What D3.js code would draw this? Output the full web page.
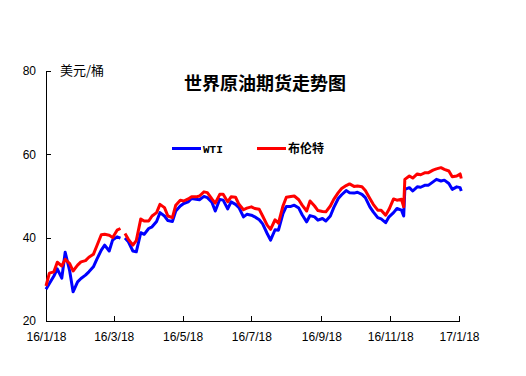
<!DOCTYPE html>
<html>
<head>
<meta charset="utf-8">
<title>世界原油期货走势图</title>
<style>
body { margin: 0; background: #fff; }
text { fill: #000; }
.axis text { font: 12px "Liberation Sans", Arial, sans-serif; }
.axis path, .axis line { stroke: #000; shape-rendering: crispEdges; }
</style>
</head>
<body>
<script src="https://cdn.jsdelivr.net/npm/d3@7"></script>
<script>

// trading days sampled (twice a week) from the picture
var dates = [
  "2016-01-18","2016-01-21","2016-01-25","2016-01-28","2016-02-01","2016-02-04","2016-02-08","2016-02-11",
  "2016-02-15","2016-02-18","2016-02-22","2016-02-25","2016-02-29","2016-03-03","2016-03-07","2016-03-10",
  "2016-03-14","2016-03-17","2016-03-21","2016-03-24","2016-03-25","2016-03-28","2016-03-31","2016-04-04",
  "2016-04-07","2016-04-11","2016-04-14","2016-04-18","2016-04-21","2016-04-25","2016-04-28","2016-05-02",
  "2016-05-05","2016-05-09","2016-05-12","2016-05-16","2016-05-19","2016-05-23","2016-05-26","2016-05-30",
  "2016-06-02","2016-06-06","2016-06-09","2016-06-13","2016-06-16","2016-06-20","2016-06-23","2016-06-27",
  "2016-06-30","2016-07-04","2016-07-07","2016-07-11","2016-07-14","2016-07-18","2016-07-21","2016-07-25",
  "2016-07-28","2016-08-01","2016-08-04","2016-08-08","2016-08-11","2016-08-15","2016-08-18","2016-08-22",
  "2016-08-25","2016-08-29","2016-09-01","2016-09-05","2016-09-08","2016-09-12","2016-09-15","2016-09-19",
  "2016-09-22","2016-09-26","2016-09-29","2016-10-03","2016-10-06","2016-10-10","2016-10-13","2016-10-17",
  "2016-10-20","2016-10-24","2016-10-27","2016-10-31","2016-11-03","2016-11-07","2016-11-10","2016-11-14",
  "2016-11-17","2016-11-21","2016-11-24","2016-11-28","2016-11-30","2016-12-01","2016-12-05","2016-12-08",
  "2016-12-12","2016-12-15","2016-12-19","2016-12-22","2016-12-26","2016-12-29","2017-01-02","2017-01-05",
  "2017-01-09","2017-01-12","2017-01-16","2017-01-19","2017-01-20"
];

var wti = [
  27.6,29.0,30.8,32.5,30.3,36.5,32.0,27.0,
  29.4,30.2,31.0,31.8,33.0,34.8,37.0,38.2,
  36.8,39.4,40.2,39.9,null,39.9,39.0,36.8,
  36.6,41.2,40.8,42.2,42.6,43.9,46.0,45.2,
  44.1,43.9,46.4,47.6,48.2,48.6,49.4,49.2,
  49.1,49.9,49.6,48.5,46.4,49.2,49.0,46.9,
  48.6,48.0,47.2,45.0,45.6,45.4,45.0,44.3,
  43.3,41.0,39.4,41.9,41.8,45.8,47.5,47.5,
  47.8,47.1,45.5,43.8,45.3,45.0,44.2,44.6,
  44.0,45.2,47.2,49.4,50.3,51.3,50.8,50.7,
  50.9,50.4,49.6,47.4,46.2,44.8,44.5,43.6,
  45.0,46.0,47.0,46.6,45.2,51.6,52.0,51.2,
  52.2,52.1,52.6,52.6,53.4,54.0,53.6,53.8,
  53.0,51.6,52.2,52.0,51.2
];

var brent = [
  28.4,31.5,31.8,34.1,33.2,34.8,33.8,32.0,
  33.4,34.2,34.5,35.3,36.0,38.0,40.7,40.8,
  40.6,40.0,41.8,42.2,null,41.0,39.6,38.2,
  39.3,44.5,44.0,44.0,45.2,46.0,48.0,47.2,
  45.2,44.8,47.8,49.0,48.8,49.3,49.8,49.8,
  50.0,51.0,50.8,49.3,48.3,50.4,50.4,48.6,
  49.8,49.7,48.0,46.7,47.1,47.4,47.0,46.8,
  45.2,43.0,42.0,44.3,43.5,47.6,49.7,49.9,
  50.0,49.1,47.8,46.4,48.8,47.6,46.5,46.3,
  46.2,47.6,49.2,50.8,51.8,52.5,52.9,52.3,
  52.4,52.2,51.3,49.4,48.0,46.6,46.6,45.4,
  46.8,49.3,49.0,49.2,47.4,54.0,54.8,54.3,
  55.3,55.1,55.6,55.6,56.2,56.5,56.8,56.4,
  56.0,54.6,54.8,55.3,54.2
];

var seriesNames = ["WTI", "布伦特"];
var seriesColors = ["#0000ff", "#ff0000"];
var yTicks = [20, 40, 60, 80];
var xTicks = ["2016-01-18","2016-03-18","2016-05-18","2016-07-18","2016-09-18","2016-11-18","2017-01-18"];

var width = 526,
    height = 376;

var parse = d3.timeParse("%Y-%m-%d");

var svg = d3.select("body").append("svg")
    .attr("width", width)
    .attr("height", height);

var x = d3.scaleTime()
    .domain([parse(xTicks[0]), parse(xTicks[xTicks.length - 1])])
    .range([46, 459]);

var y = d3.scaleLinear()
    .domain([20, 80])
    .range([321, 71]);

// axes, ticks pointing inside
svg.append("g")
    .attr("class", "axis")
    .attr("transform", "translate(46,0)")
    .call(d3.axisLeft(y)
        .tickValues(yTicks)
        .tickSizeInner(-5)
        .tickSizeOuter(0)
        .tickPadding(10));

svg.append("g")
    .attr("class", "axis")
    .attr("transform", "translate(0,321)")
    .call(d3.axisBottom(x)
        .tickValues(xTicks.map(parse))
        .tickFormat(d3.timeFormat("%y/%-m/%-d"))
        .tickSizeInner(-5)
        .tickSizeOuter(0)
        .tickPadding(11));

var line = d3.line()
    .defined(function(d) { return d.v != null; })
    .x(function(d) { return x(d.date); })
    .y(function(d) { return y(d.v); });

[wti, brent].forEach(function(vals, i) {
  var pts = dates.map(function(s, j) { return {date: parse(s), v: vals[j]}; });
  svg.append("path")
      .datum(pts)
      .attr("fill", "none")
      .attr("stroke", seriesColors[i])
      .attr("stroke-width", 3)
      .attr("stroke-linejoin", "round")
      .attr("d", line);
});

// title and unit
svg.append("text")
    .attr("x", 265)
    .attr("y", 90)
    .attr("text-anchor", "middle")
    .style("font", "bold 18px 'Noto Sans CJK SC', sans-serif")
    .text("世界原油期货走势图");

svg.append("text")
    .attr("x", 60)
    .attr("y", 75)
    .style("font", "13px 'Noto Sans CJK SC', sans-serif")
    .text("美元/桶");

// legend
var legendX = [172, 257];
seriesNames.forEach(function(name, i) {
  svg.append("line")
      .attr("x1", legendX[i])
      .attr("x2", legendX[i] + 29)
      .attr("y1", 148.5)
      .attr("y2", 148.5)
      .attr("stroke", seriesColors[i])
      .attr("stroke-width", 3);
  svg.append("text")
      .attr("x", legendX[i] + 31)
      .attr("y", 153)
      .style("font", i == 0 ? "bold 11px 'Liberation Mono', monospace" : "bold 12px 'Noto Sans CJK SC', sans-serif")
      .text(name);
});

</script>
</body>
</html>
